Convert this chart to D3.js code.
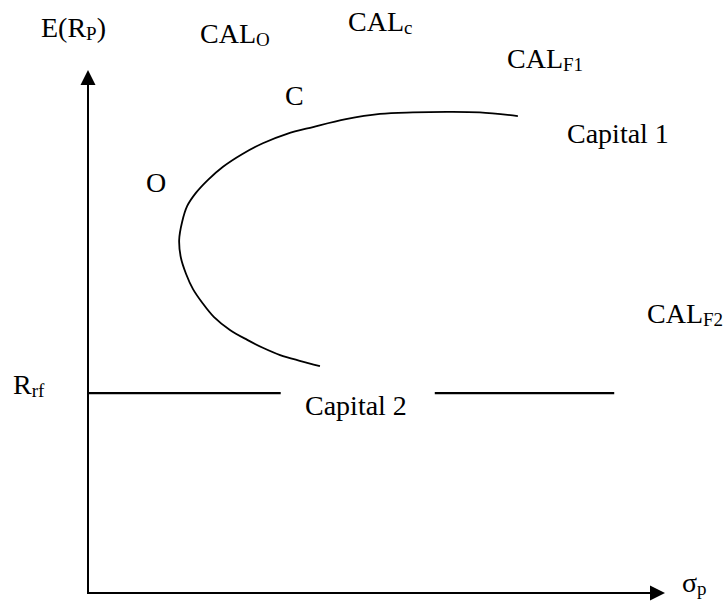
<!DOCTYPE html>
<html lang="en">
<head>
  <meta charset="UTF-8">
  <title>Capital Allocation Lines</title>
  <script src="https://d3js.org/d3.v7.min.js"></script>
  <style>
    body { margin: 0; background: #fff; }
    text { font-family: "Liberation Serif", "Times New Roman", serif; font-size: 28px; fill: #000; }
    .sub { font-size: 19px; }
  </style>
</head>
<body>
  <svg width="726" height="601"></svg>

  <script>
    const width = 726, height = 601;
    const svg = d3.select("svg");

    // frontier curve (sigma, expected return)
    const frontierSigma  = [74.5, 67.9, 62.2, 56.3, 50.6, 44.7, 39.0, 34.5, 30.3, 26.7, 23.4, 20.8, 18.7, 17.2,
                            16.3, 15.8, 16.1, 17.0, 18.2, 19.8, 21.8, 24.6, 27.6, 30.3, 33.3, 36.7, 40.2];
    const frontierReturn = [91.2, 91.9, 92.0, 91.9, 91.6, 90.6, 89.1, 87.8, 86.0, 83.9, 81.5, 79.0, 76.5, 74.0,
                            70.9, 67.5, 64.1, 61.0, 58.1, 55.5, 52.8, 50.3, 48.4, 46.9, 45.5, 44.4, 43.4];

    // risk-free line, broken where the "Capital 2" label sits
    const rf = 38.2;
    const rfSegments = [[0, 33.4], [60.1, 91.2]];

    const x = d3.scaleLinear().domain([0, 100]).range([88, 665]);
    const y = d3.scaleLinear().domain([0, 100]).range([593, 70]);

    // axes with arrow heads
    svg.append("line")
      .attr("x1", x(0)).attr("y1", y(0))
      .attr("x2", x(0)).attr("y2", y(100) + 14)
      .attr("stroke", "#000").attr("stroke-width", 2);
    svg.append("line")
      .attr("x1", x(0) - 1).attr("y1", y(0))
      .attr("x2", x(100) - 14).attr("y2", y(0))
      .attr("stroke", "#000").attr("stroke-width", 2.2);

    svg.append("path")
      .attr("d", `M${x(0)},${y(100)} L${x(0) - 7.5},${y(100) + 15} L${x(0) + 7.5},${y(100) + 15} Z`)
      .attr("fill", "#000");
    svg.append("path")
      .attr("d", `M${x(100)},${y(0)} L${x(100) - 15},${y(0) - 7.5} L${x(100) - 15},${y(0) + 7.5} Z`)
      .attr("fill", "#000");

    // frontier
    const pts = frontierSigma.map((s, i) => [s, frontierReturn[i]]);
    const line = d3.line()
      .x(d => x(d[0]))
      .y(d => y(d[1]))
      .curve(d3.curveCatmullRom.alpha(0.5));
    svg.append("path")
      .datum(pts)
      .attr("d", line)
      .attr("fill", "none")
      .attr("stroke", "#000")
      .attr("stroke-width", 1.8);

    // risk-free rate line
    svg.selectAll(".rf")
      .data(rfSegments)
      .enter().append("line")
      .attr("class", "rf")
      .attr("x1", d => x(d[0])).attr("x2", d => x(d[1]))
      .attr("y1", y(rf)).attr("y2", y(rf))
      .attr("stroke", "#000")
      .attr("stroke-width", 2.2);

    // labels: main text followed by subscript (and optional trailing text)
    function label(px, py, main, sub, tail) {
      const t = svg.append("text").attr("x", px).attr("y", py);
      t.append("tspan").text(main);
      if (sub) t.append("tspan").attr("class", "sub").attr("dy", 3).text(sub);
      if (tail) t.append("tspan").attr("dy", -3).text(tail);
    }

    label(41, 37, "E(R", "P", ")");
    label(200, 43, "CAL", "O");
    label(348, 31, "CAL", "c");
    label(507, 68, "CAL", "F1");
    label(285, 105, "C");
    label(146, 192, "O");
    label(567, 143, "Capital 1");
    label(647, 323, "CAL", "F2");
    label(13, 394, "R", "rf");
    label(305, 415, "Capital 2");
    label(682, 592, "σ", "p");
  </script>
</body>
</html>
